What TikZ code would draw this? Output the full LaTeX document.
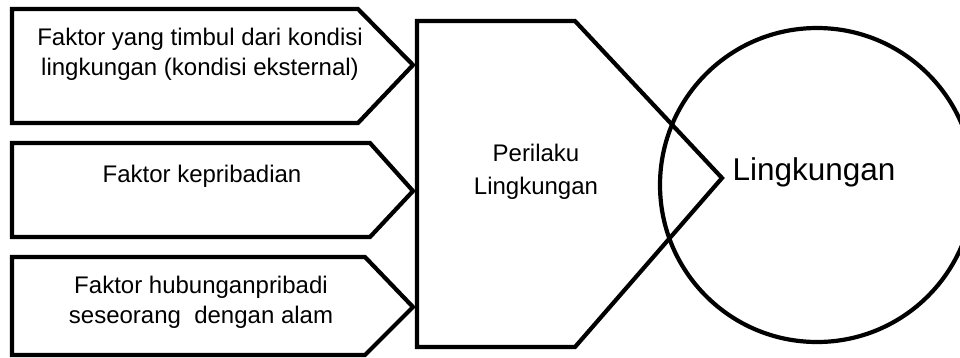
\documentclass[tikz,border=0pt]{standalone}
\usepackage{fontspec}
\setmainfont{Liberation Sans}
\tikzset{
	bentuk/.style={draw=black, line width=4.2pt},
	teks/.style={align=center, inner sep=0pt, font=\fontsize{24}{30}\selectfont},
}

\begin{document}
\begin{tikzpicture}[x=1pt, y=-1pt]
		\useasboundingbox (0,0) rectangle (960,357);
		\clip (0,0) rectangle (960,357);
		% kotak faktor
		\draw[bentuk] (12,9) -- (358,9) -- (413,65) -- (358,123) -- (12,123) -- cycle;
		\draw[bentuk] (12,143) -- (370,143) -- (413,191) -- (370,237) -- (12,237) -- cycle;
		\draw[bentuk] (12,257) -- (365,257) -- (413,307) -- (365,355) -- (12,355) -- cycle;
		% perilaku
		\draw[bentuk] (417,21) -- (575,21) -- (722,178) -- (575,347) -- (417,347) -- cycle;
		% lingkungan
		\draw[bentuk] (817,185) circle[radius=157pt];

		\node[teks] (ekst) at (200,54) {Faktor yang timbul dari kondisi\\lingkungan (kondisi eksternal)};
		\node[teks] (pribadi) at (202,176) {Faktor kepribadian};
		\node[teks] (alam) at (201,302) {Faktor hubunganpribadi\\seseorang\ \ dengan alam};
		\node[teks, font=\fontsize{24}{33}\selectfont] (perilaku) at (536,172) {Perilaku\\Lingkungan};
		\node[teks, font=\fontsize{31.5}{38}\selectfont] (lingk) at (814,172) {Lingkungan};
	\end{tikzpicture}
\end{document}
